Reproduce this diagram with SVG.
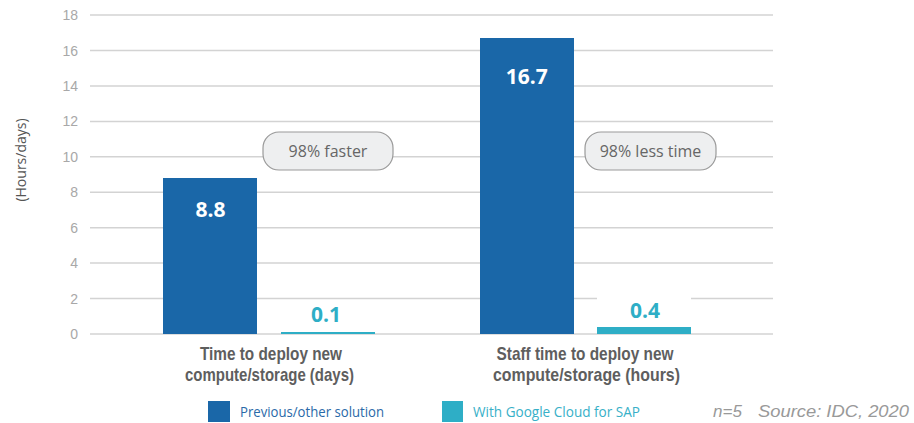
<svg xmlns="http://www.w3.org/2000/svg" width="914" height="423" viewBox="0 0 914 423">
<style>
.grid{stroke:#d3d3d3;stroke-width:1.5}
.tick{font-family:"Liberation Sans",Arial,sans-serif;font-size:14px;fill:#a8a8a8;text-anchor:end}
.prev{fill:#1a67a8}
.gcs{fill:#2eaec6}
.val{font-family:"Open Sans",sans-serif;font-weight:bold;font-size:21px;text-anchor:middle}
.pill{fill:#eeeff0;stroke:#9a9a9a;stroke-width:1.2}
.pilltxt{font-family:"Open Sans",sans-serif;font-size:16px;fill:#666;text-anchor:middle}
.cat{font-family:"Liberation Sans",Arial,sans-serif;font-weight:bold;font-size:19px;fill:#5e5e5e;text-anchor:middle}
.leg{font-family:"Open Sans",sans-serif;font-size:14px}
.src{font-family:"Liberation Sans",Arial,sans-serif;font-style:italic;font-size:17px;fill:#999}
</style>
<g id="axis">
<line class="grid" x1="90" y1="15" x2="773" y2="15"/>
<line class="grid" x1="90" y1="50.5" x2="773" y2="50.5"/>
<line class="grid" x1="90" y1="85.9" x2="773" y2="85.9"/>
<line class="grid" x1="90" y1="121.4" x2="773" y2="121.4"/>
<line class="grid" x1="90" y1="156.8" x2="773" y2="156.8"/>
<line class="grid" x1="90" y1="192.2" x2="773" y2="192.2"/>
<line class="grid" x1="90" y1="227.7" x2="773" y2="227.7"/>
<line class="grid" x1="90" y1="263.1" x2="773" y2="263.1"/>
<line class="grid" x1="90" y1="298.6" x2="773" y2="298.6"/>
<line class="grid" x1="90" y1="334" x2="773" y2="334"/>
<text class="tick" x="78" y="20">18</text>
<text class="tick" x="78" y="55.5">16</text>
<text class="tick" x="78" y="90.9">14</text>
<text class="tick" x="78" y="126.4">12</text>
<text class="tick" x="78" y="161.8">10</text>
<text class="tick" x="78" y="197.2">8</text>
<text class="tick" x="78" y="232.7">6</text>
<text class="tick" x="78" y="268.1">4</text>
<text class="tick" x="78" y="303.6">2</text>
<text class="tick" x="78" y="339">0</text>
<text x="0" y="0" transform="translate(26,160) rotate(-90)" font-family="'Open Sans',sans-serif" font-size="14" fill="#555" text-anchor="middle">(Hours/days)</text>
</g>
<g id="group1">
<rect class="prev" x="163" y="178" width="94" height="156"/>
<text class="val" x="210.5" y="217" fill="#fff">8.8</text>
<rect class="gcs" x="281" y="332" width="94" height="2"/>
<text class="val gcs" x="326" y="322">0.1</text>
<rect class="pill" x="263" y="132" width="130" height="38" rx="16"/>
<text class="pilltxt" x="328" y="157">98% faster</text>
<text class="cat" x="271" y="360" textLength="142" lengthAdjust="spacingAndGlyphs">Time to deploy new</text>
<text class="cat" x="269.5" y="381" textLength="169" lengthAdjust="spacingAndGlyphs">compute/storage (days)</text>
</g>
<g id="group2">
<rect class="prev" x="480" y="38" width="94" height="296"/>
<text class="val" x="526.7" y="84" fill="#fff">16.7</text>
<rect fill="#fff" x="597" y="290" width="94" height="37"/>
<rect class="gcs" x="597" y="327" width="94" height="7"/>
<text class="val gcs" x="645" y="318">0.4</text>
<rect class="pill" x="585" y="132" width="131" height="38" rx="16"/>
<text class="pilltxt" x="650.5" y="157">98% less time</text>
<text class="cat" x="585" y="360" textLength="177" lengthAdjust="spacingAndGlyphs">Staff time to deploy new</text>
<text class="cat" x="586.5" y="381" textLength="187" lengthAdjust="spacingAndGlyphs">compute/storage (hours)</text>
</g>
<g id="legend">
<rect class="prev" x="208" y="401" width="22" height="21"/>
<text class="leg" x="240" y="416.5" fill="#2a69a8" textLength="144" lengthAdjust="spacingAndGlyphs">Previous/other solution</text>
<rect class="gcs" x="442" y="401" width="21" height="21"/>
<text class="leg" x="473" y="416.5" fill="#37b0c8" textLength="167" lengthAdjust="spacingAndGlyphs">With Google Cloud for SAP</text>
</g>
<g id="source">
<text class="src" x="713" y="417">n=5</text>
<text class="src" x="758" y="417" textLength="151" lengthAdjust="spacingAndGlyphs">Source: IDC, 2020</text>
</g>
</svg>
